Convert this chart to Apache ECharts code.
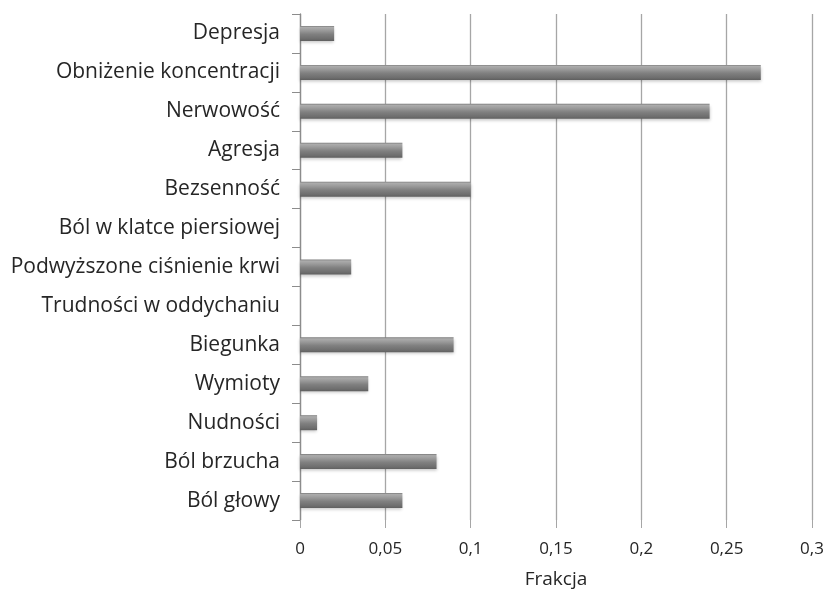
<!DOCTYPE html>
<html>
<head>
<meta charset="utf-8">
<script src="https://cdn.jsdelivr.net/npm/echarts@6/dist/echarts.min.js"></script>
<style>
  html, body { margin: 0; padding: 0; background: #ffffff; }
  #chart { width: 824px; height: 592px; }
</style>
</head>
<body>
<div id="chart"></div>
<script>
// Symptom categories, top to bottom
const categories = [
  'Depresja',
  'Obniżenie koncentracji',
  'Nerwowość',
  'Agresja',
  'Bezsenność',
  'Ból w klatce piersiowej',
  'Podwyższone ciśnienie krwi',
  'Trudności w oddychaniu',
  'Biegunka',
  'Wymioty',
  'Nudności',
  'Ból brzucha',
  'Ból głowy'
];

// Fraction reporting each symptom
const fractions = [0.02, 0.27, 0.24, 0.06, 0.10, 0, 0.03, 0, 0.09, 0.04, 0.01, 0.08, 0.06];

// Value-axis tick settings and label text
const axisMin = 0;
const axisMax = 0.3;
const axisStep = 0.05;
const axisTitle = 'Frakcja';

const chart = echarts.init(document.getElementById('chart'), null, { renderer: 'canvas' });

const font = '"Open Sans", sans-serif';

chart.setOption({
  animation: false,
  backgroundColor: '#ffffff',
  grid: { left: 300, right: 12, top: 14, bottom: 72, containLabel: false, outerBoundsMode: 'none' },
  xAxis: {
    type: 'value',
    min: axisMin,
    max: axisMax,
    interval: axisStep,
    name: axisTitle,
    nameLocation: 'middle',
    nameGap: 50,
    nameTextStyle: { fontFamily: font, fontSize: 19, color: '#262626' },
    axisLine: { show: false },
    axisTick: { show: true, length: 8, lineStyle: { color: '#a6a6a6', width: 1 } },
    splitLine: { show: true, lineStyle: { color: '#a6a6a6', width: 1.3 } },
    axisLabel: {
      fontFamily: font,
      fontSize: 17,
      color: '#262626',
      margin: 21,
      formatter: v => String(Math.round(v * 100) / 100).replace('.', ',')
    }
  },
  yAxis: {
    type: 'category',
    data: categories,
    inverse: true,
    axisLine: { show: true, lineStyle: { color: '#8c8c8c', width: 1.3 } },
    axisTick: { show: true, length: 8, lineStyle: { color: '#8c8c8c', width: 1 } },
    axisLabel: {
      fontFamily: font,
      fontSize: 21,
      color: '#262626',
      margin: 20
    },
    splitLine: { show: false }
  },
  series: [{
    type: 'bar',
    data: fractions,
    barWidth: 15,
    itemStyle: {
      color: new echarts.graphic.LinearGradient(0, 0, 0, 1, [
        { offset: 0, color: '#7c7c7c' },
        { offset: 0.1, color: '#acacac' },
        { offset: 0.3, color: '#9a9a9a' },
        { offset: 0.55, color: '#808080' },
        { offset: 0.85, color: '#6e6e6e' },
        { offset: 1, color: '#5f5f5f' }
      ]),
      shadowColor: 'rgba(0,0,0,0.22)',
      shadowBlur: 3,
      shadowOffsetY: 2
    }
  }]
});
</script>
</body>
</html>
